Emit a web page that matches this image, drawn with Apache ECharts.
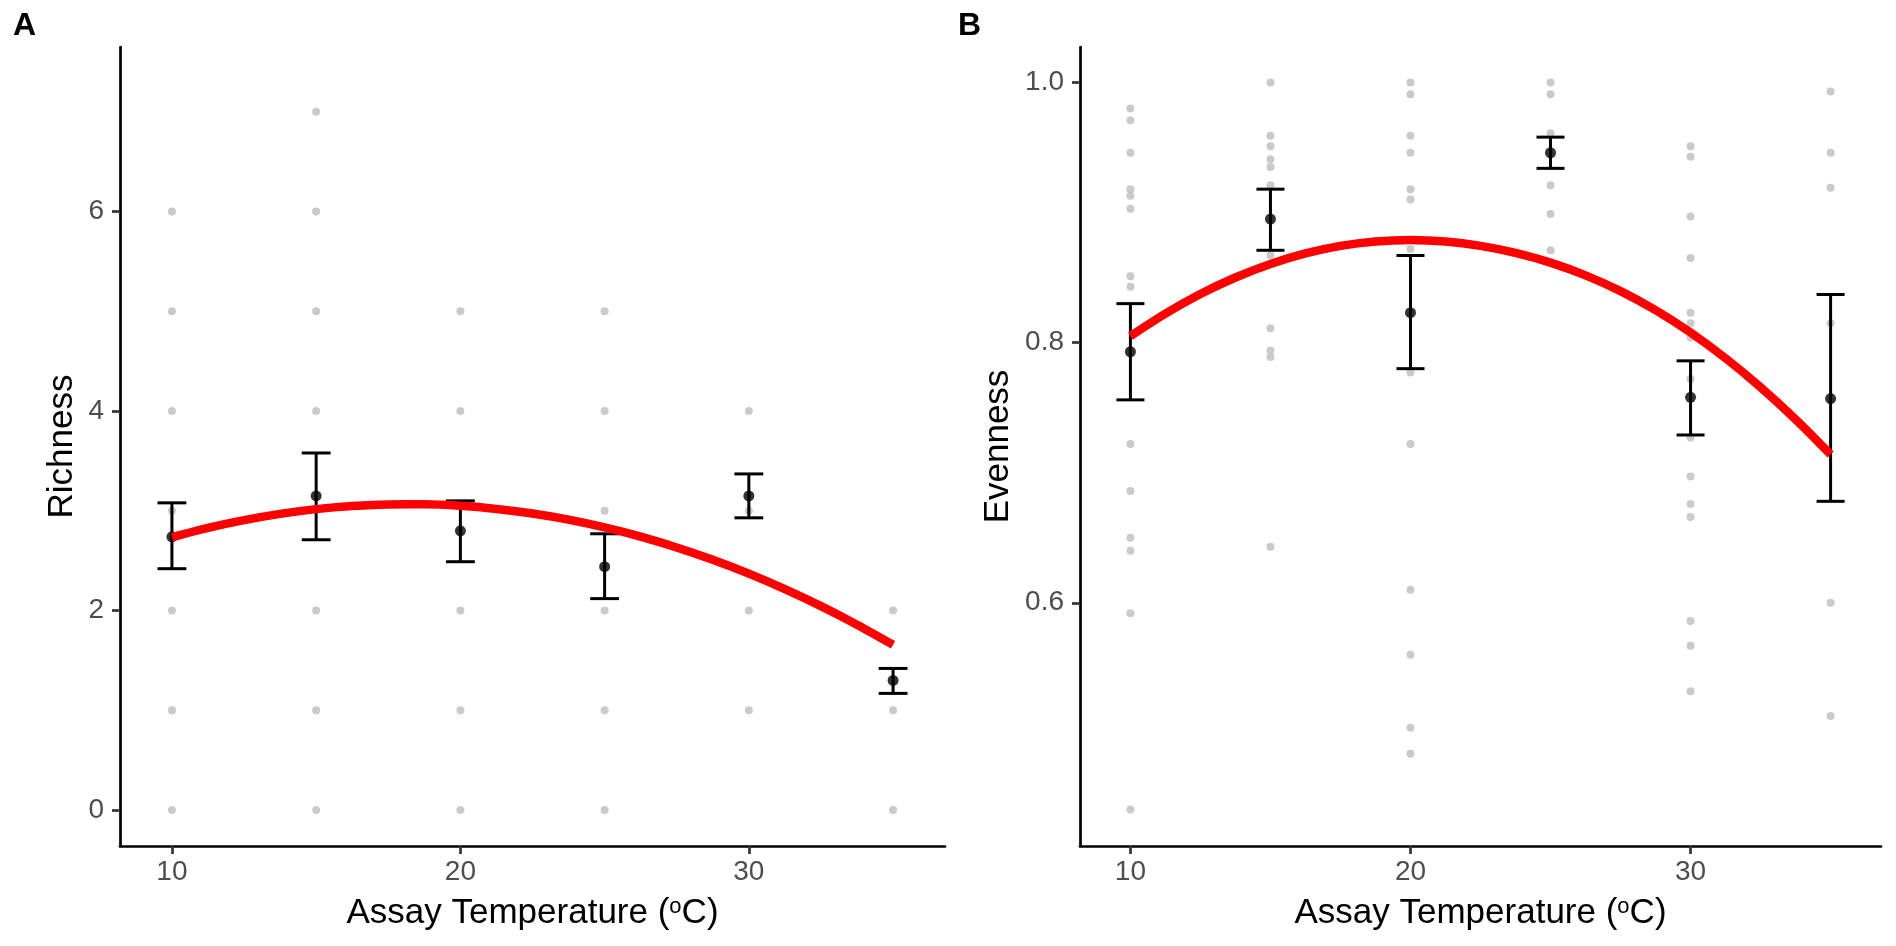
<!DOCTYPE html>
<html>
<head>
<meta charset="utf-8">
<script src="https://cdn.jsdelivr.net/npm/echarts@6/dist/echarts.min.js"></script>
<style>
html,body{margin:0;padding:0;background:#fff;}
#chart{width:1896px;height:946px;}
</style>
</head>
<body>
<div id="chart"></div>
<script>
// ---------- data ----------
const temps = [10, 15, 20, 25, 30, 35];

// Panel A: richness, individual observations (grey)
const richness10 = [0, 1, 2, 3, 4, 5, 6];
const richness15 = [0, 1, 2, 4, 5, 6, 7];
const richness20 = [0, 1, 2, 4, 5];
const richness25 = [0, 1, 2, 3, 4, 5];
const richness30 = [1, 2, 3, 4];
const richness35 = [0, 1, 2];
// Panel A: means and error bars
const richnessMean = [2.74, 3.15, 2.80, 2.44, 3.15, 1.30];
const richnessLow  = [2.42, 2.71, 2.49, 2.12, 2.93, 1.17];
const richnessHigh = [3.08, 3.58, 3.10, 2.77, 3.37, 1.42];

// Panel B: evenness, individual observations (grey)
const evenness10 = [0.980, 0.971, 0.946, 0.918, 0.913, 0.903, 0.851, 0.843, 0.722, 0.686, 0.650, 0.640, 0.592, 0.441];
const evenness15 = [1.000, 0.959, 0.951, 0.941, 0.935, 0.921, 0.867, 0.811, 0.794, 0.789, 0.643];
const evenness20 = [1.000, 0.991, 0.959, 0.946, 0.918, 0.910, 0.872, 0.777, 0.722, 0.610, 0.560, 0.504, 0.484];
const evenness25 = [1.000, 0.991, 0.961, 0.921, 0.899, 0.871];
const evenness30 = [0.951, 0.943, 0.897, 0.865, 0.823, 0.815, 0.804, 0.772, 0.727, 0.697, 0.676, 0.666, 0.586, 0.567, 0.532];
const evenness35 = [0.993, 0.946, 0.919, 0.815, 0.600, 0.513];
// Panel B: means and error bars
const evennessMean = [0.793, 0.895, 0.823, 0.946, 0.758, 0.757];
const evennessLow  = [0.756, 0.871, 0.780, 0.934, 0.729, 0.678];
const evennessHigh = [0.830, 0.918, 0.867, 0.958, 0.786, 0.837];

// Fitted curves
const fitTemps    = [10, 11.25, 12.5, 13.75, 15, 16.25, 17.5, 18.75, 20, 21.25, 22.5, 23.75, 25, 26.25, 27.5, 28.75, 30, 31.25, 32.5, 33.75, 35];
const richnessFit = [2.735, 2.829, 2.907, 2.970, 3.017, 3.048, 3.064, 3.065, 3.050, 3.019, 2.973, 2.912, 2.834, 2.742, 2.633, 2.509, 2.370, 2.215, 2.045, 1.859, 1.657];
const evennessFit = [0.8050, 0.8223, 0.8374, 0.8501, 0.8605, 0.8686, 0.8744, 0.8778, 0.8790, 0.8778, 0.8744, 0.8690, 0.8615, 0.8517, 0.8396, 0.8250, 0.8078, 0.7880, 0.7657, 0.7410, 0.7140];

// Tick labels
const tempTicks = [10, 20, 30];
const richnessTicks = [0, 2, 4, 6];
const evennessTicks = [0.6, 0.8, 1.0];

// ---------- build ----------
const richnessRaw = [richness10, richness15, richness20, richness25, richness30, richness35];
const evennessRaw = [evenness10, evenness15, evenness20, evenness25, evenness30, evenness35];
function rawPoints(groups) {
  const out = [];
  groups.forEach((g, i) => g.forEach(v => out.push([temps[i], v])));
  return out;
}
function pairs(xs, ys) { return xs.map((x, i) => [x, ys[i]]); }
function bars(lo, hi) { return temps.map((t, i) => [t, lo[i], hi[i]]); }

const FONT = 'Liberation Sans';
const CAP = 0.5;
function renderBar(params, api) {
  const x = api.value(0), lo = api.value(1), hi = api.value(2);
  const a = api.coord([x, hi]), b = api.coord([x, lo]);
  const hl = api.coord([x - CAP, hi]), hr = api.coord([x + CAP, hi]);
  const ll = api.coord([x - CAP, lo]), lr = api.coord([x + CAP, lo]);
  const st = { stroke: '#000', lineWidth: 3 };
  return {
    type: 'group',
    children: [
      { type: 'line', shape: { x1: a[0], y1: a[1], x2: b[0], y2: b[1] }, style: st },
      { type: 'line', shape: { x1: hl[0], y1: hl[1], x2: hr[0], y2: hr[1] }, style: st },
      { type: 'line', shape: { x1: ll[0], y1: ll[1], x2: lr[0], y2: lr[1] }, style: st }
    ]
  };
}

const tickStyle = { color: '#333333', width: 2.7 };
function xAxis(gi) {
  return {
    type: 'value', gridIndex: gi, min: 8.2, max: 36.8,
    axisLine: { onZero: false, lineStyle: { color: '#000', width: 2.7 } },
    axisTick: { length: 8, lineStyle: tickStyle, customValues: tempTicks },
    axisLabel: { customValues: tempTicks, color: '#4D4D4D', fontSize: 28, fontFamily: FONT, margin: 12 },
    splitLine: { show: false },
    name: '{a|Assay Temperature (}{s|o}{a|C)}',
    nameLocation: 'middle', nameGap: 50,
    nameTextStyle: {
      color: '#000', fontFamily: FONT,
      rich: {
        a: { fontSize: 35, fontFamily: FONT, color: '#000', lineHeight: 40, verticalAlign: 'top' },
        s: { fontSize: 22, fontFamily: FONT, color: '#000', lineHeight: 10, verticalAlign: 'top' }
      }
    }
  };
}
function yAxis(gi, min, max, ticks, name, gap, fmt) {
  return {
    type: 'value', gridIndex: gi, min: min, max: max,
    axisLine: { onZero: false, lineStyle: { color: '#000', width: 2.7 } },
    axisTick: { length: 8, lineStyle: tickStyle, customValues: ticks },
    axisLabel: { customValues: ticks, color: '#4D4D4D', fontSize: 28, fontFamily: FONT, margin: 16, formatter: fmt },
    splitLine: { show: false },
    name: name, nameLocation: 'middle', nameGap: gap, nameRotate: 90,
    nameTextStyle: { color: '#000', fontSize: 35, fontFamily: FONT }
  };
}

const option = {
  animation: false,
  backgroundColor: '#fff',
  grid: [
    { left: 120, top: 47, width: 825, height: 799 },
    { left: 1080, top: 47, width: 801, height: 799 }
  ],
  xAxis: [xAxis(0), xAxis(1)],
  yAxis: [
    yAxis(0, -0.36, 7.65, richnessTicks, 'Richness', 40, v => String(v)),
    yAxis(1, 0.413, 1.0273, evennessTicks, 'Evenness', 64, v => Number(v).toFixed(1))
  ],
  graphic: [
    { type: 'text', left: 13, top: 10, style: { text: 'A', font: 'bold 32px "Liberation Sans"', fill: '#000' } },
    { type: 'text', left: 958, top: 10, style: { text: 'B', font: 'bold 32px "Liberation Sans"', fill: '#000' } }
  ],
  series: [
    { type: 'scatter', xAxisIndex: 0, yAxisIndex: 0, z: 1, symbolSize: 8, itemStyle: { color: '#BDBDBD' }, data: rawPoints(richnessRaw), silent: true },
    { type: 'custom', xAxisIndex: 0, yAxisIndex: 0, z: 2, renderItem: renderBar, encode: { x: 0, y: [1, 2] }, data: bars(richnessLow, richnessHigh), silent: true },
    { type: 'scatter', xAxisIndex: 0, yAxisIndex: 0, z: 3, symbolSize: 11, itemStyle: { color: '#000' }, data: pairs(temps, richnessMean), silent: true },
    { type: 'line', xAxisIndex: 0, yAxisIndex: 0, z: 4, smooth: 0.3, showSymbol: false, lineStyle: { color: '#FF0000', width: 8.5, cap: 'butt' }, data: pairs(fitTemps, richnessFit), silent: true },

    { type: 'scatter', xAxisIndex: 1, yAxisIndex: 1, z: 1, symbolSize: 8, itemStyle: { color: '#BDBDBD' }, data: rawPoints(evennessRaw), silent: true },
    { type: 'custom', xAxisIndex: 1, yAxisIndex: 1, z: 2, renderItem: renderBar, encode: { x: 0, y: [1, 2] }, data: bars(evennessLow, evennessHigh), silent: true },
    { type: 'scatter', xAxisIndex: 1, yAxisIndex: 1, z: 3, symbolSize: 11, itemStyle: { color: '#000' }, data: pairs(temps, evennessMean), silent: true },
    { type: 'line', xAxisIndex: 1, yAxisIndex: 1, z: 4, smooth: 0.3, showSymbol: false, lineStyle: { color: '#FF0000', width: 8.5, cap: 'butt' }, data: pairs(fitTemps, evennessFit), silent: true }
  ]
};
const chart = echarts.init(document.getElementById('chart'));
chart.setOption(option);
</script>
</body>
</html>
